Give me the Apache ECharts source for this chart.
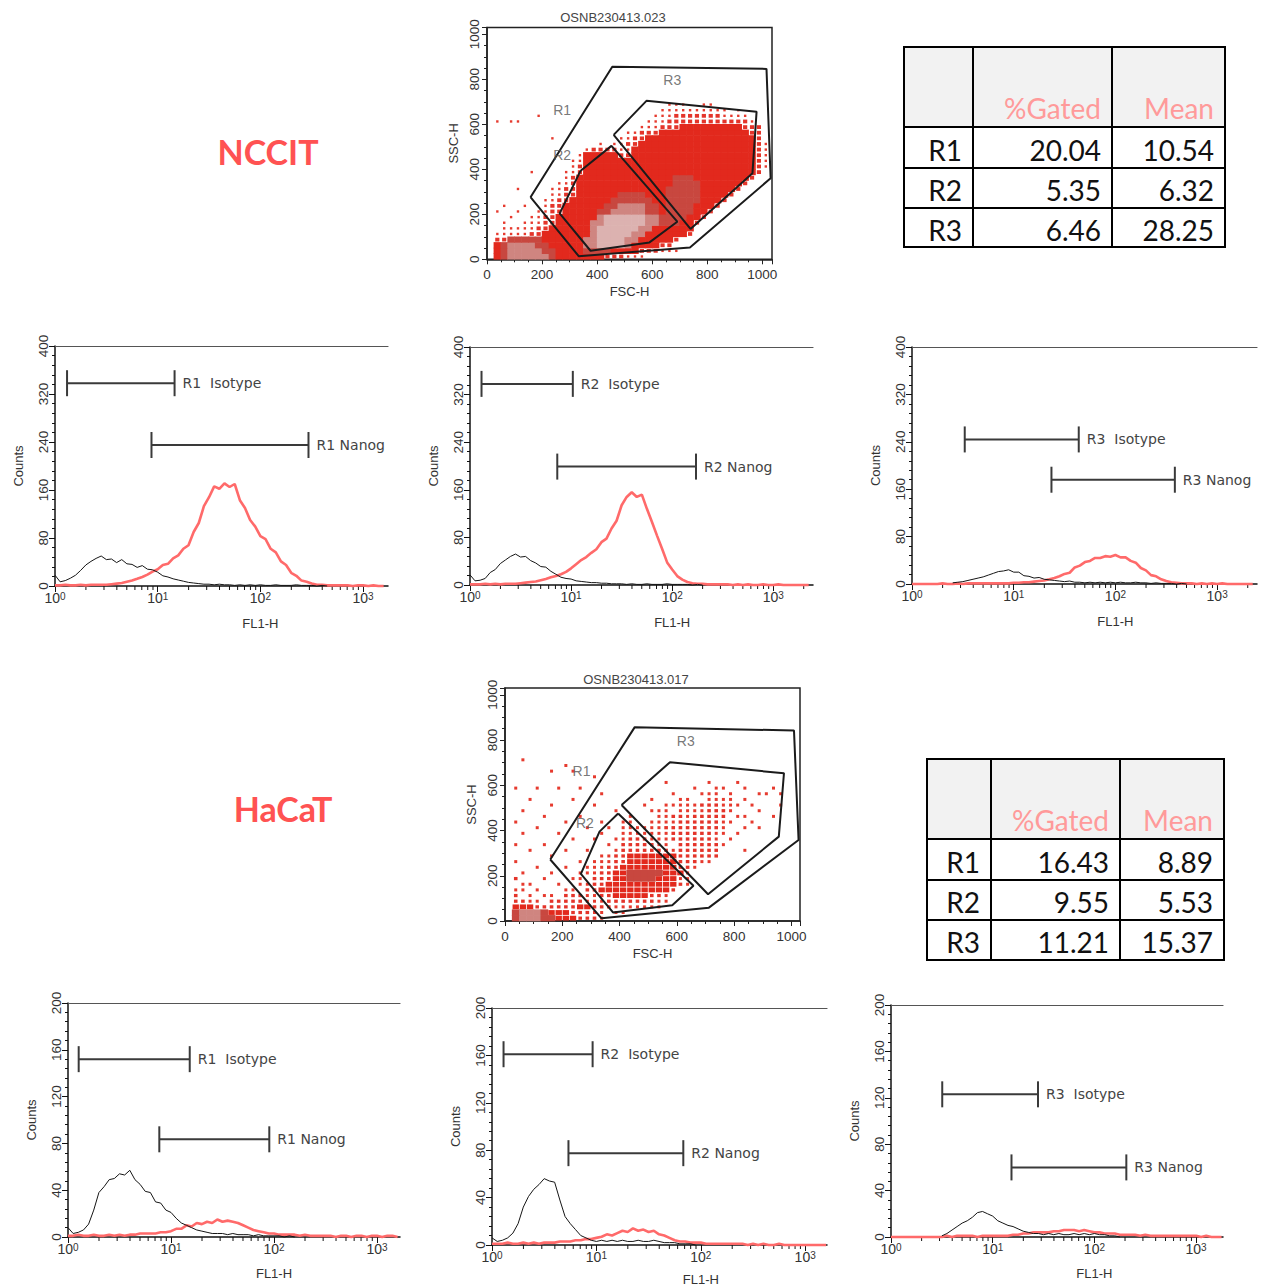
<!DOCTYPE html>
<html>
<head>
<meta charset="utf-8">
<script src="https://cdn.jsdelivr.net/npm/echarts@6/dist/echarts.min.js"></script>
<style>
  html, body { margin: 0; padding: 0; background: #fff; }
  #chart { width: 1262px; height: 1287px; }
</style>
</head>
<body>
<div id="chart"></div>
<script>
// ---------- FL1 histogram channels (log scale, 20 per decade) ----------
const FL1_BINS = [
  1.000, 1.122, 1.259, 1.413, 1.585, 1.778, 1.995, 2.239, 2.512, 2.818,
  3.162, 3.548, 3.981, 4.467, 5.012, 5.623, 6.310, 7.079, 7.943, 8.913,
  10.00, 11.22, 12.59, 14.13, 15.85, 17.78, 19.95, 22.39, 25.12, 28.18,
  31.62, 35.48, 39.81, 44.67, 50.12, 56.23, 63.10, 70.79, 79.43, 89.13,
  100.0, 112.2, 125.9, 141.3, 158.5, 177.8, 199.5, 223.9, 251.2, 281.8,
  316.2, 354.8, 398.1, 446.7, 501.2, 562.3, 631.0, 707.9, 794.3, 891.3,
  1000, 1122, 1259, 1413, 1585, 1778, 1995, 2239, 2512
];

// ---------- NCCIT counts per channel ----------
const NCCIT_R1_ISOTYPE = [
  18, 7, 9, 13, 18, 26, 35, 41, 46, 50,
  44, 45, 39, 44, 37, 36, 31, 34, 28, 27,
  23, 17, 15, 12, 10, 8, 6, 5, 4, 3,
  3, 2, 3, 2, 2, 1, 2, 1, 2, 1,
  2, 1, 1, 2, 1, 1, 1, 2, 1, 1,
  1, 0, 1, 0
];
const NCCIT_R1_NANOG = [
  1, 1, 2, 1, 1, 2, 1, 2, 2, 2,
  2, 3, 4, 5, 7, 9, 12, 15, 19, 24,
  28, 35, 37, 46, 51, 62, 68, 90, 105, 133,
  148, 166, 162, 171, 165, 170, 143, 130, 110, 99,
  83, 78, 62, 56, 41, 35, 22, 17, 9, 7,
  4, 2, 2, 1, 1, 1, 1, 1, 0, 1,
  1, 0, 1, 0, 0, 1, 0, 0, 0
];
const NCCIT_R2_ISOTYPE = [
  17, 7, 8, 11, 21, 26, 36, 42, 48, 52,
  47, 48, 41, 37, 31, 30, 23, 18, 13, 11,
  10, 7, 6, 5, 4, 4, 3, 3, 2, 2,
  2, 1, 2, 1, 1, 2, 1, 1, 1, 2,
  1, 1, 1, 1, 0, 1, 0
];
const NCCIT_R2_NANOG = [
  1, 1, 1, 2, 1, 2, 1, 2, 2, 2,
  3, 4, 5, 6, 8, 10, 13, 15, 18, 22,
  28, 35, 42, 47, 54, 60, 72, 78, 95, 108,
  134, 148, 156, 148, 152, 128, 106, 83, 61, 38,
  26, 15, 9, 5, 3, 2, 2, 1, 1, 1,
  1, 1, 0, 1, 0, 1, 0, 0, 1, 0,
  0, 1, 0, 0, 0, 0, 0, 0, 0
];
const NCCIT_R3_ISOTYPE = [
  null, null, null, null, null, null, null, null, 2, 3,
  4, 6, 8, 10, 12, 15, 18, 21, 22, 24,
  20, 20, 14, 13, 10, 11, 8, 7, 6, 5,
  4, 5, 3, 3, 2, 3, 2, 3, 2, 3,
  2, 3, 2, 2, 3, 2, 2, 1, 2, 1,
  1, 1, 0, 1, 0
];
const NCCIT_R3_NANOG = [
  0, 0, 0, 0, 0, 0, 1, 0, 0, 1,
  0, 1, 1, 1, 1, 1, 1, 1, 1, 1,
  2, 2, 3, 3, 4, 5, 6, 8, 10, 13,
  17, 19, 28, 31, 37, 39, 44, 44, 47, 46,
  49, 45, 45, 39, 36, 27, 23, 15, 13, 8,
  5, 3, 2, 1, 1, 1, 0, 1, 0, 1,
  0, 1, 0, 0, 0, 0, 0, 0, 0
];

// ---------- HaCaT counts per channel ----------
const HACAT_R1_ISOTYPE = [
  8, 3, 4, 6, 11, 23, 38, 43, 49, 50,
  54, 53, 57, 49, 45, 39, 38, 30, 29, 23,
  21, 16, 12, 10, 8, 6, 5, 4, 3, 3,
  3, 2, 3, 2, 2, 2, 1, 2, 1, 1,
  1, 1, 0, 1, 0
];
const HACAT_R1_NANOG = [
  1, 1, 2, 1, 1, 2, 1, 1, 2, 1,
  2, 1, 2, 2, 3, 3, 3, 3, 4, 4,
  5, 7, 7, 10, 9, 12, 11, 13, 12, 15,
  13, 14, 13, 12, 10, 8, 6, 5, 4, 3,
  3, 2, 2, 2, 2, 1, 2, 1, 1, 1,
  1, 1, 0, 1, 1, 0, 1, 1, 0, 1,
  1, 0, 1, 1, 0, 1, 0, 0, 0
];
const HACAT_R2_ISOTYPE = [
  6, 3, 4, 6, 10, 18, 32, 41, 47, 51,
  56, 54, 53, 38, 24, 18, 13, 8, 6, 4,
  3, 4, 3, 4, 3, 4, 3, 3, 4, 3,
  3, 4, 3, 2, 2, 2, 1, 1, 1, 0
];
const HACAT_R2_NANOG = [
  1, 1, 1, 2, 1, 1, 2, 1, 2, 1,
  2, 2, 2, 3, 3, 3, 4, 4, 5, 5,
  6, 7, 9, 8, 10, 12, 11, 14, 12, 13,
  11, 12, 9, 8, 6, 4, 3, 3, 2, 2,
  2, 1, 1, 1, 1, 1, 1, 1, 1, 0,
  1, 0, 1, 0, 0, 1, 0, 0, 0, 0,
  0, 0, 0, 0, 0, 0, 0, 0, 0
];
const HACAT_R3_ISOTYPE = [
  null, null, null, null, null, null, null, null, null, null,
  1, 3, 6, 9, 12, 14, 17, 21, 22, 20,
  18, 14, 12, 10, 9, 7, 5, 4, 3, 3,
  2, 3, 2, 3, 2, 2, 3, 2, 3, 2,
  3, 2, 2, 1, 1, 0
];
const HACAT_R3_NANOG = [
  0, 0, 0, 0, 0, 0, 0, 0, 0, 0,
  0, 1, 0, 1, 1, 1, 1, 0, 1, 1,
  1, 1, 1, 1, 2, 2, 3, 3, 4, 4,
  4, 4, 5, 5, 6, 6, 6, 5, 6, 5,
  4, 4, 3, 3, 3, 2, 2, 2, 2, 1,
  2, 1, 1, 1, 1, 1, 1, 1, 1, 1,
  1, 0, 1, 0, 0, 0, 0, 0, 0
];

// ---------- marker ranges: [start, end, count level, name] ----------
const NCCIT_R1_MARKERS = [[1.31, 14.6, 338, 'R1  Isotype'], [8.7, 294, 235, 'R1 Nanog']];
const NCCIT_R2_MARKERS = [[1.30, 10.4, 338, 'R2  Isotype'], [7.3, 172, 199, 'R2 Nanog']];
const NCCIT_R3_MARKERS = [[3.30, 43.6, 244, 'R3  Isotype'], [23.5, 384, 176, 'R3 Nanog']];
const HACAT_R1_MARKERS = [[1.27, 15.2, 152, 'R1  Isotype'], [7.7, 90, 83.5, 'R1 Nanog']];
const HACAT_R2_MARKERS = [[1.29, 9.2, 161, 'R2  Isotype'], [5.4, 68, 77.5, 'R2 Nanog']];
const HACAT_R3_MARKERS = [[3.19, 27.9, 123, 'R3  Isotype'], [15.3, 206, 60, 'R3 Nanog']];

// ---------- FSC/SSC gates (polygon vertices) ----------
const NCCIT_GATE_R1 = [[158, 276], [455, 856], [1015, 846], [1030, 360], [737, 52], [333, 14]];
const NCCIT_GATE_R2 = [[339, 392], [452, 504], [691, 167], [590, 75], [376, 38], [264, 204]];
const NCCIT_GATE_R3 = [[460, 553], [579, 704], [979, 656], [964, 382], [739, 135]];
const HACAT_GATE_R1 = [[158, 272], [453, 857], [1009, 842], [1025, 358], [712, 59], [337, 12]];
const HACAT_GATE_R2 = [[395, 475], [330, 395], [265, 208], [377, 38], [584, 70], [658, 156]];
const HACAT_GATE_R3 = [[407, 513], [576, 702], [974, 653], [956, 373], [709, 118]];
const GATE_NAMES = ['R1', 'R2', 'R3'];
const NCCIT_GATE_LABEL_POS = [[273, 664], [273, 464], [673, 797]];
const HACAT_GATE_LABEL_POS = [[267, 664], [279, 432], [631, 796]];

// ---------- FSC/SSC event density, 25-unit bins ----------
// one entry per SSC row (row 0 = 0..25); runs of [firstCol, lastCol, level]
const NCCIT_DENSITY = [
  [[1, 16, 3], [17, 19, 2], [20, 22, 1], [2, 9, 4], [3, 8, 5]],
  [[1, 21, 3], [22, 24, 2], [25, 27, 1], [2, 9, 4], [3, 7, 5], [14, 17, 4]],
  [[1, 24, 3], [25, 26, 2], [2, 8, 4], [3, 6, 5], [14, 20, 5], [16, 19, 6]],
  [[1, 2, 2], [3, 26, 3], [27, 27, 2], [3, 7, 4], [14, 21, 5], [16, 19, 6]],
  [[1, 5, 1], [6, 7, 2], [8, 28, 3], [29, 29, 2], [15, 22, 5], [16, 20, 6]],
  [[2, 6, 1], [7, 8, 2], [9, 29, 3], [15, 23, 5], [16, 21, 6]],
  [[2, 2, 1], [5, 7, 1], [8, 9, 2], [10, 29, 3], [30, 30, 2], [15, 24, 5], [17, 22, 6], [25, 27, 4]],
  [[3, 3, 1], [6, 7, 1], [8, 9, 2], [10, 30, 3], [31, 31, 2], [16, 24, 5], [17, 22, 6], [25, 28, 4]],
  [[1, 1, 1], [4, 4, 1], [7, 8, 1], [9, 10, 2], [11, 31, 3], [32, 32, 2], [16, 24, 4], [18, 22, 5], [26, 29, 4]],
  [[2, 2, 1], [5, 5, 1], [8, 8, 1], [9, 10, 2], [11, 32, 3], [33, 33, 2], [17, 24, 4], [19, 22, 5], [26, 29, 4]],
  [[8, 9, 1], [10, 11, 2], [12, 33, 3], [34, 34, 2], [18, 23, 4], [26, 30, 4]],
  [[9, 10, 1], [11, 12, 2], [13, 34, 3], [35, 35, 2], [19, 22, 4], [26, 30, 4]],
  [[4, 4, 1], [9, 10, 1], [11, 12, 2], [13, 35, 3], [36, 36, 2], [26, 30, 4]],
  [[10, 11, 1], [12, 12, 2], [13, 36, 3], [37, 37, 2], [27, 30, 4]],
  [[11, 11, 1], [12, 12, 2], [13, 37, 3], [38, 38, 2], [27, 29, 4]],
  [[6, 6, 1], [11, 12, 1], [13, 13, 2], [14, 38, 3], [39, 39, 2]],
  [[12, 12, 1], [13, 13, 2], [14, 38, 3], [39, 39, 2], [40, 40, 1]],
  [[12, 13, 1], [14, 38, 3], [39, 39, 2], [40, 40, 1]],
  [[13, 13, 1], [14, 18, 3], [19, 20, 2], [21, 38, 3], [39, 39, 2], [40, 40, 1]],
  [[14, 14, 1], [15, 18, 2], [19, 20, 1], [21, 38, 3], [39, 39, 2], [40, 40, 1]],
  [[16, 16, 1], [18, 19, 1], [20, 21, 2], [22, 38, 3], [39, 39, 2], [40, 40, 1]],
  [[9, 9, 1], [19, 20, 1], [21, 22, 2], [23, 38, 3], [39, 39, 2]],
  [[20, 21, 1], [22, 24, 2], [25, 37, 3], [38, 39, 2]],
  [[22, 24, 1], [25, 27, 2], [28, 36, 3], [37, 39, 2]],
  [[1, 1, 1], [3, 4, 1], [23, 25, 1], [26, 37, 2], [38, 38, 1]],
  [[7, 7, 1], [24, 26, 1], [27, 33, 2], [34, 37, 1]],
  [[25, 29, 1], [30, 34, 1], [36, 36, 1]],
  [[26, 28, 1], [31, 32, 1]]
];
const HACAT_DENSITY = [
  [[1, 6, 4], [2, 4, 5], [7, 9, 3], [10, 12, 2], [13, 13, 1]],
  [[1, 5, 4], [2, 4, 5], [6, 8, 3], [9, 11, 2], [12, 13, 1], [15, 16, 1]],
  [[1, 3, 3], [4, 5, 2], [6, 9, 2], [10, 11, 3], [12, 14, 2], [15, 19, 1], [20, 21, 1]],
  [[1, 2, 2], [3, 4, 1], [6, 10, 2], [11, 13, 1], [14, 20, 2], [21, 22, 1]],
  [[1, 1, 2], [3, 3, 1], [5, 6, 1], [8, 10, 2], [11, 12, 1], [13, 21, 2], [15, 19, 3], [22, 22, 1]],
  [[1, 2, 1], [4, 4, 1], [8, 9, 1], [11, 12, 2], [13, 22, 3], [23, 23, 2]],
  [[2, 3, 1], [7, 7, 1], [10, 11, 1], [12, 13, 2], [14, 23, 3], [24, 24, 2], [25, 25, 1]],
  [[1, 1, 2], [5, 5, 1], [9, 10, 1], [12, 14, 2], [15, 23, 3], [17, 20, 4], [24, 25, 1]],
  [[2, 2, 1], [6, 6, 1], [10, 12, 1], [13, 14, 2], [15, 24, 3], [17, 21, 4], [25, 25, 1]],
  [[4, 4, 1], [8, 8, 1], [11, 13, 1], [14, 15, 2], [16, 23, 3], [24, 25, 2], [26, 26, 1]],
  [[1, 1, 1], [10, 10, 1], [12, 14, 1], [15, 16, 2], [17, 23, 3], [24, 26, 2], [27, 28, 1]],
  [[6, 6, 1], [13, 14, 1], [15, 16, 2], [17, 23, 3], [24, 24, 2], [25, 29, 2]],
  [[3, 3, 1], [8, 8, 1], [11, 11, 1], [15, 15, 1], [16, 22, 2], [23, 23, 1], [24, 29, 2], [33, 33, 1]],
  [[1, 1, 1], [5, 5, 1], [14, 14, 1], [16, 20, 2], [21, 22, 1], [24, 29, 2], [30, 30, 1]],
  [[9, 9, 1], [12, 12, 1], [15, 16, 1], [17, 19, 2], [20, 22, 1], [23, 28, 2], [29, 29, 1], [31, 31, 1]],
  [[2, 2, 1], [7, 7, 1], [13, 13, 1], [16, 18, 1], [19, 22, 1], [23, 28, 2], [29, 30, 1], [32, 32, 1]],
  [[4, 4, 1], [11, 11, 1], [14, 14, 1], [16, 21, 1], [22, 23, 2], [24, 29, 2], [30, 30, 1], [33, 33, 1], [35, 35, 1]],
  [[1, 1, 1], [8, 8, 1], [13, 13, 1], [16, 17, 1], [20, 23, 1], [24, 29, 2], [30, 31, 1], [34, 34, 1]],
  [[5, 5, 1], [10, 10, 1], [17, 17, 1], [21, 22, 1], [23, 24, 2], [25, 25, 1], [26, 30, 2], [32, 33, 1], [37, 37, 1]],
  [[2, 2, 1], [15, 15, 1], [20, 22, 1], [24, 27, 1], [28, 30, 2], [31, 31, 1], [35, 35, 1]],
  [[6, 6, 1], [12, 12, 1], [19, 19, 1], [22, 26, 1], [27, 29, 2], [30, 32, 1], [34, 34, 1], [38, 38, 1]],
  [[3, 3, 1], [9, 9, 1], [20, 20, 1], [24, 25, 1], [28, 31, 1], [33, 33, 1]],
  [[13, 13, 1], [23, 23, 1], [27, 29, 1], [31, 31, 1], [35, 36, 1], [38, 38, 1]],
  [[1, 1, 1], [4, 4, 1], [7, 7, 1], [10, 10, 1], [26, 26, 1], [29, 30, 1], [33, 33, 1], [37, 37, 1]],
  [[22, 22, 1], [28, 28, 1], [32, 32, 1]],
  [[12, 12, 1]],
  [[6, 6, 1], [9, 9, 1]],
  [[8, 8, 1]],
  [[2, 2, 1]]
];

// ---------- statistics tables ----------
const TABLE_HEADERS = ['', '%Gated', 'Mean'];
const TABLE_ROWS = ['R1', 'R2', 'R3'];
const NCCIT_GATED = [20.04, 5.35, 6.46];
const NCCIT_MEAN = [10.54, 6.32, 28.25];
const HACAT_GATED = [16.43, 9.55, 11.21];
const HACAT_MEAN = [8.89, 5.53, 15.37];

// ---------- axis ticks ----------
const FL1_MINOR_TICKS = [2, 3, 4, 5, 6, 7, 8, 9, 20, 30, 40, 50, 60, 70, 80, 90,
  200, 300, 400, 500, 600, 700, 800, 900, 2000];

// ======================================================================
const CELL = 25;
const LEVEL_COLORS = [null, '#e63a2e', '#e4342a', '#e2291d', '#c8473f', '#cf8580', '#dcb2b0'];
const TICK_FONT = 'Liberation Sans';
const MARK_FONT = 'DejaVu Sans';

function expandRuns(rows) {
  const pts = [];
  rows.forEach((runs, r) => {
    const cells = {};
    runs.forEach(([c0, c1, lv]) => { for (let c = c0; c <= c1; c++) cells[c] = lv; });
    Object.keys(cells).forEach(c => pts.push([+c * CELL + CELL / 2, r * CELL + CELL / 2, cells[c]]));
  });
  return pts;
}

const SCATTER_PANELS = [
  { title: 'OSNB230413.023', titleX: 613, titleY: 17,
    grid: { left: 487, top: 27.5, width: 285, height: 231.8 }, xmax: 1035, ymax: 1030,
    density: NCCIT_DENSITY, gates: [NCCIT_GATE_R1, NCCIT_GATE_R2, NCCIT_GATE_R3],
    labels: NCCIT_GATE_LABEL_POS, sparse: [2.4, 4.2], solidInset: 0 },
  { title: 'OSNB230413.017', titleX: 636, titleY: 679,
    grid: { left: 505, top: 688, width: 295, height: 233 }, xmax: 1030, ymax: 1030,
    density: HACAT_DENSITY, gates: [HACAT_GATE_R1, HACAT_GATE_R2, HACAT_GATE_R3],
    labels: HACAT_GATE_LABEL_POS, sparse: [3, 3.6], solidInset: 1.4 }
];

const HIST_PANELS = [
  { grid: { left: 55, top: 346, width: 333, height: 240 }, xmax: 1748, ymax: 400, yint: 80, nameDy: 37,
    iso: NCCIT_R1_ISOTYPE, nanog: NCCIT_R1_NANOG, markers: NCCIT_R1_MARKERS },
  { grid: { left: 470, top: 347, width: 343, height: 238 }, xmax: 2471, ymax: 400, yint: 80, nameDy: 37,
    iso: NCCIT_R2_ISOTYPE, nanog: NCCIT_R2_NANOG, markers: NCCIT_R2_MARKERS },
  { grid: { left: 912, top: 347, width: 345, height: 237 }, xmax: 2466, ymax: 400, yint: 80, nameDy: 37,
    iso: NCCIT_R3_ISOTYPE, nanog: NCCIT_R3_NANOG, markers: NCCIT_R3_MARKERS },
  { grid: { left: 68, top: 1003, width: 332, height: 234 }, xmax: 1672, ymax: 200, yint: 40, nameDy: 36,
    iso: HACAT_R1_ISOTYPE, nanog: HACAT_R1_NANOG, markers: HACAT_R1_MARKERS },
  { grid: { left: 492, top: 1008, width: 335, height: 237 }, xmax: 1618, ymax: 200, yint: 40, nameDy: 34,
    iso: HACAT_R2_ISOTYPE, nanog: HACAT_R2_NANOG, markers: HACAT_R2_MARKERS },
  { grid: { left: 891, top: 1005, width: 332, height: 232 }, xmax: 1838, ymax: 200, yint: 40, nameDy: 36,
    iso: HACAT_R3_ISOTYPE, nanog: HACAT_R3_NANOG, markers: HACAT_R3_MARKERS }
];

const grids = [], xAxes = [], yAxes = [], series = [], graphics = [];
const plain = v => String(v);

// ---------- FSC / SSC dot plots ----------
SCATTER_PANELS.forEach((p) => {
  const gi = grids.length;
  grids.push(Object.assign({ show: true, borderColor: '#222', borderWidth: 1.5, backgroundColor: '#fff' }, p.grid));
  const xi = xAxes.length, yi = yAxes.length;
  const common = {
    type: 'value', gridIndex: gi, min: 0, interval: 200,
    nameLocation: 'middle', nameTextStyle: { fontSize: 13, color: '#333', fontFamily: TICK_FONT },
    axisLine: { show: true, onZero: false, lineStyle: { color: '#222', width: 1.5 } },
    axisTick: { show: true, length: 5, lineStyle: { color: '#222' } },
    minorTick: { show: true, splitNumber: 4, length: 3, lineStyle: { color: '#222' } },
    splitLine: { show: false }, minorSplitLine: { show: false }
  };
  xAxes.push(Object.assign({}, common, { max: p.xmax, name: 'FSC-H', nameGap: 26,
    axisLabel: { fontSize: 13.5, color: '#333', fontFamily: TICK_FONT, margin: 8, showMaxLabel: false, formatter: plain } }));
  yAxes.push(Object.assign({}, common, { max: p.ymax, name: 'SSC-H', nameGap: 27, nameRotate: 90,
    axisLabel: { fontSize: 13.5, color: '#333', fontFamily: TICK_FONT, margin: 6, rotate: 90, showMaxLabel: false, formatter: plain } }));

  const cw = p.grid.width / p.xmax * CELL + 0.6;
  const ch = p.grid.height / p.ymax * CELL + 0.6;
  series.push({
    type: 'scatter', xAxisIndex: xi, yAxisIndex: yi, silent: true,
    data: expandRuns(p.density), symbol: 'rect',
    symbolSize: v => v[2] === 1 ? [p.sparse[0], p.sparse[0]] : v[2] === 2 ? [p.sparse[1], p.sparse[1] * 0.9]
      : v[2] === 3 ? [cw - p.solidInset, ch - p.solidInset] : [cw, ch],
    itemStyle: { color: prm => LEVEL_COLORS[prm.value[2]], opacity: 1 }
  });
  p.gates.forEach((g) => {
    series.push({
      type: 'line', xAxisIndex: xi, yAxisIndex: yi, silent: true, symbol: 'none',
      data: g.concat([g[0]]), lineStyle: { color: '#1b1b1b', width: 2 }, z: 5
    });
  });
  series.push({
    type: 'scatter', xAxisIndex: xi, yAxisIndex: yi, silent: true, symbolSize: 0, z: 6,
    data: p.labels.map((pos, k) => ({ value: pos, name: GATE_NAMES[k] })),
    label: { show: true, position: 'inside', formatter: '{b}', fontSize: 14, color: '#555', fontFamily: TICK_FONT }
  });
  graphics.push({ type: 'text', x: p.titleX, y: p.titleY,
    style: { text: p.title, fontSize: 13, fontFamily: TICK_FONT, fill: '#444', align: 'center', verticalAlign: 'middle',
      textAlign: 'center', textVerticalAlign: 'middle' } });
});

// ---------- FL1 histograms ----------
function pairs(bins, counts, xmax) {
  const out = [];
  bins.forEach((b, k) => {
    if (b > xmax * 1.0001) return;
    out.push([b, k < counts.length ? counts[k] : null]);
  });
  return out;
}

HIST_PANELS.forEach((p) => {
  const gi = grids.length;
  grids.push(Object.assign({ show: false }, p.grid));
  const xi = xAxes.length, yi = yAxes.length;
  xAxes.push({
    type: 'log', logBase: 10, gridIndex: gi, min: 1, max: p.xmax, position: 'bottom',
    axisLine: { show: true, onZero: false, lineStyle: { color: '#111', width: 1.5 } },
    axisTick: { show: true, length: 6, lineStyle: { color: '#111' } },
    splitLine: { show: false },
    axisLabel: {
      margin: 5, showMaxLabel: false,
      formatter: v => {
        const e = Math.log10(v);
        if (Math.abs(e - Math.round(e)) > 1e-6) return '';
        return '{b|10}{s|' + Math.round(e) + '}';
      },
      rich: {
        b: { fontSize: 14, color: '#333', fontFamily: TICK_FONT },
        s: { fontSize: 10, color: '#333', fontFamily: TICK_FONT, verticalAlign: 'top' }
      }
    }
  });
  xAxes.push({
    type: 'log', logBase: 10, gridIndex: gi, min: 1, max: p.xmax, position: 'top',
    axisLine: { show: true, onZero: false, lineStyle: { color: '#555', width: 1.2 } },
    axisTick: { show: false }, axisLabel: { show: false }, splitLine: { show: false }
  });
  yAxes.push({
    type: 'value', gridIndex: gi, min: 0, max: p.ymax, interval: p.yint,
    name: 'Counts', nameLocation: 'middle', nameGap: 30, nameRotate: 90,
    nameTextStyle: { fontSize: 13, color: '#333', fontFamily: TICK_FONT },
    axisLine: { show: true, onZero: false, lineStyle: { color: '#111', width: 1.5 } },
    axisTick: { show: true, length: 6, lineStyle: { color: '#111' } },
    minorTick: { show: true, splitNumber: 5, length: 3, lineStyle: { color: '#111' } },
    splitLine: { show: false }, minorSplitLine: { show: false },
    axisLabel: { rotate: 90, fontSize: 13.5, color: '#333', fontFamily: TICK_FONT, margin: 5, formatter: plain }
  });

  // Nanog stain (salmon) under the isotype control (black)
  series.push({
    type: 'line', xAxisIndex: xi, yAxisIndex: yi, silent: true, symbol: 'none', clip: false,
    data: pairs(FL1_BINS, p.nanog, p.xmax), lineStyle: { color: '#ff6a6a', width: 2.6 }, z: 3
  });
  series.push({
    type: 'line', xAxisIndex: xi, yAxisIndex: yi, silent: true, symbol: 'none', clip: false,
    data: pairs(FL1_BINS, p.iso, p.xmax), lineStyle: { color: '#151515', width: 1 }, z: 4
  });

  // log-decade minor ticks
  series.push({
    type: 'custom', xAxisIndex: xi, yAxisIndex: yi, silent: true, clip: false, z: 1,
    data: FL1_MINOR_TICKS.filter(v => v < p.xmax).map(v => [v, 0]),
    renderItem: (params, api) => {
      const c = api.coord([api.value(0), 0]);
      return { type: 'line', shape: { x1: c[0], y1: c[1], x2: c[0], y2: c[1] + 4 },
        style: { stroke: '#111', lineWidth: 1 } };
    }
  });

  // FL1-H axis title, centred on the 10^2 decade
  series.push({
    type: 'custom', xAxisIndex: xi, yAxisIndex: yi, silent: true, clip: false,
    data: [[100, 0]],
    renderItem: (params, api) => {
      const c = api.coord([api.value(0), 0]);
      return { type: 'text', x: c[0], y: c[1] + p.nameDy,
        style: { text: 'FL1-H', fontSize: 13, fontFamily: TICK_FONT, fill: '#333',
          align: 'center', verticalAlign: 'middle', textAlign: 'center', textVerticalAlign: 'middle' } };
    }
  });

  // range markers
  const markers = p.markers;
  series.push({
    type: 'custom', xAxisIndex: xi, yAxisIndex: yi, silent: true, clip: false, z: 6,
    data: markers.map(m => [m[0], m[1], m[2]]),
    renderItem: (params, api) => {
      const y = api.value(2);
      const a = api.coord([api.value(0), y]);
      const b = api.coord([api.value(1), y]);
      const st = { stroke: '#3a3a3a', lineWidth: 2 };
      return { type: 'group', children: [
        { type: 'line', shape: { x1: a[0], y1: a[1], x2: b[0], y2: b[1] }, style: st },
        { type: 'line', shape: { x1: a[0], y1: a[1] - 13, x2: a[0], y2: a[1] + 13 }, style: st },
        { type: 'line', shape: { x1: b[0], y1: b[1] - 13, x2: b[0], y2: b[1] + 13 }, style: st },
        { type: 'text', x: b[0] + 8, y: b[1],
          style: { text: markers[params.dataIndex][3], fontSize: 14, fontFamily: MARK_FONT, fill: '#444',
            align: 'left', verticalAlign: 'middle', textAlign: 'left', textVerticalAlign: 'middle' } }
      ] };
    }
  });
});

// ---------- cell line names ----------
graphics.push({ type: 'text', x: 268, y: 151,
  style: { text: 'NCCIT', fontSize: 34, fontWeight: 'bold', fontFamily: 'Lato', fill: '#ff5252',
    align: 'center', verticalAlign: 'middle', textAlign: 'center', textVerticalAlign: 'middle' } });
graphics.push({ type: 'text', x: 283, y: 808,
  style: { text: 'HaCaT', fontSize: 34, fontWeight: 'bold', fontFamily: 'Lato', fill: '#ff5252',
    align: 'center', verticalAlign: 'middle', textAlign: 'center', textVerticalAlign: 'middle' } });

// ---------- statistics tables ----------
function buildTable(colX, rowY, gated, mean) {
  const els = [];
  const txt = (x, y, t, color) => ({ type: 'text', x: x, y: y,
    style: { text: t, fontSize: 28, fontFamily: 'Lato', fill: color, align: 'right', verticalAlign: 'middle',
      textAlign: 'right', textVerticalAlign: 'middle' } });
  els.push({ type: 'rect', shape: { x: colX[0], y: rowY[0], width: colX[3] - colX[0], height: rowY[1] - rowY[0] },
    style: { fill: '#f2f2f2' } });
  TABLE_HEADERS.forEach((h, j) => { if (h) els.push(txt(colX[j + 1] - 11, rowY[1] - 19, h, '#ff9a9a')); });
  TABLE_ROWS.forEach((name, i) => {
    const cy = (rowY[i + 1] + rowY[i + 2]) / 2 + 2;
    [name, gated[i].toFixed(2), mean[i].toFixed(2)].forEach((t, j) => els.push(txt(colX[j + 1] - 11, cy, t, '#111')));
  });
  colX.forEach(x => els.push({ type: 'line', shape: { x1: x, y1: rowY[0] - 1, x2: x, y2: rowY[rowY.length - 1] + 1 },
    style: { stroke: '#000', lineWidth: 2 } }));
  rowY.forEach(y => els.push({ type: 'line', shape: { x1: colX[0], y1: y, x2: colX[3], y2: y },
    style: { stroke: '#000', lineWidth: 2 } }));
  return { type: 'group', children: els };
}
graphics.push(buildTable([904, 973, 1112, 1225], [47, 127, 168, 208, 247], NCCIT_GATED, NCCIT_MEAN));
graphics.push(buildTable([927, 991, 1120, 1224], [759, 839, 880, 920, 960], HACAT_GATED, HACAT_MEAN));

const chart = echarts.init(document.getElementById('chart'), null, { renderer: 'svg', width: 1262, height: 1287 });
chart.setOption({
  animation: false,
  backgroundColor: '#ffffff',
  textStyle: { fontFamily: TICK_FONT },
  grid: grids, xAxis: xAxes, yAxis: yAxes, series: series, graphic: graphics
});
</script>
</body>
</html>
